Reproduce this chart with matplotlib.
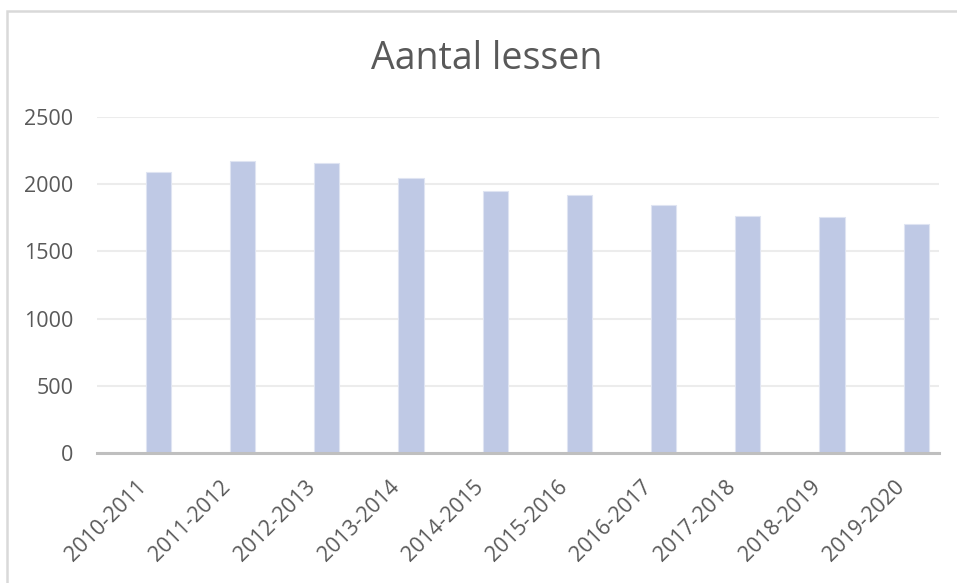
import matplotlib
matplotlib.use("Agg")
import matplotlib.pyplot as plt
import matplotlib.transforms as mtransforms
from matplotlib.patches import Rectangle

# data
schooljaren = ["2010-2011", "2011-2012", "2012-2013", "2013-2014", "2014-2015",
               "2015-2016", "2016-2017", "2017-2018", "2018-2019", "2019-2020"]
lessen = [2093, 2170, 2160, 2044, 1949, 1922, 1845, 1761, 1759, 1702]
y_ticks = [0, 500, 1000, 1500, 2000, 2500]

text_color = "#595959"
bar_color = "#bfc9e5"

plt.rcParams['font.family'] = ['Open Sans', 'DejaVu Sans']

W, H = 957, 583
fig = plt.figure(figsize=(W / 100, H / 100), dpi=100)

# chart area border
fig.patches.append(Rectangle((7 / W, -0.1), 1.2, 1 - 11 / H + 0.1,
                             transform=fig.transFigure, fill=False,
                             edgecolor="#d9d9d9", linewidth=1.8))

ax = fig.add_axes([97 / W, 130 / H, 842 / W, 336 / H])
x = list(range(len(schooljaren)))
ax.bar(x, lessen, width=0.30, color=bar_color, edgecolor="#dfe4f2", linewidth=0.8, zorder=2)

ax.set_xlim(-0.73, len(schooljaren) - 1 + 0.27)
ax.set_ylim(0, 2500)
ax.set_yticks(y_ticks)
ax.set_yticklabels([str(v) for v in y_ticks])
ax.yaxis.grid(True, color="#ececec", linewidth=1.5, zorder=0)
ax.set_axisbelow(True)

for side in ("top", "right", "left"):
    ax.spines[side].set_visible(False)
ax.spines["bottom"].set_color("#bfbfbf")
ax.spines["bottom"].set_linewidth(2.2)
ax.spines["bottom"].set_zorder(3)

ax.tick_params(axis="y", length=0, pad=17, labelsize=15.5, labelcolor=text_color)
ax.tick_params(axis="x", length=0, pad=8, labelsize=15.5, labelcolor=text_color)
ax.set_xticks(x)
ax.set_xticklabels(schooljaren, rotation=45, ha="right", va="center",
                   rotation_mode="anchor")
offset = mtransforms.ScaledTranslation(-15 / 100, -20 / 100, fig.dpi_scale_trans)
for lbl in ax.get_xticklabels():
    lbl.set_transform(lbl.get_transform() + offset)

fig.text(487 / W, 1 - 69 / H, "Aantal lessen", ha="center", va="baseline",
         fontsize=27, color=text_color)

fig.savefig("out.png", dpi=100)
